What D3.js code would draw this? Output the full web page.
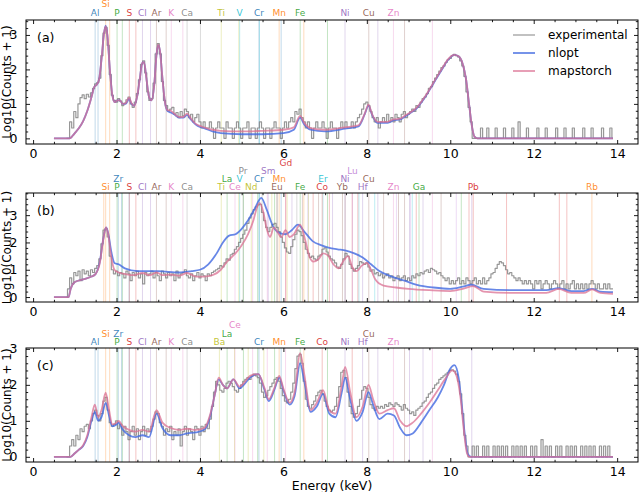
<!DOCTYPE html>
<html>
<head>
<meta charset="utf-8">
<script src="https://cdn.jsdelivr.net/npm/d3@7"></script>
<style>
  body { margin: 0; background: #fff; }
  svg { font-family: "DejaVu Sans", sans-serif; }
</style>
</head>
<body>
<svg width="640" height="492"></svg>
<script>
// experimental spectra: log10(counts + 1), one value every 0.05 keV from 0.80 keV
const expStart = 0.8;
const expStep = 0.05;

// prettier-ignore
const expA = [
  0, 0, 0.48, 0.30, 0.78, 0.60, 1.00, 1.18, 1.26, 1.15,       // 0.80
  1.28, 1.20, 1.32, 1.45, 1.58, 1.62, 1.75, 2.40, 3.05, 3.22, // 1.30
  2.70, 1.85, 1.25, 1.10, 1.05, 1.15, 1.08, 0.95, 1.02, 1.12, // 1.80
  1.20, 1.00, 0.90, 1.05, 1.30, 1.70, 2.15, 2.25, 1.90, 1.35, // 2.30
  1.10, 1.15, 1.60, 2.45, 2.75, 2.45, 1.65, 1.10, 0.95, 0.80, // 2.80
  0.85, 0.90, 0.70, 0.75, 0.60, 0.78, 0.65, 0.85, 0.78, 0.60, // 3.30
  0.70, 0.48, 0.60, 0.70, 0.48, 0.30, 0.48, 0.30, 0.30, 0.48, // 3.80
  0.30, 0, 0.30, 0.48, 0.30, 0.30, 0, 0.48, 0.30, 0.30,       // 4.30
  0, 0.30, 0.48, 0.30, 0, 0.30, 0.30, 0.48, 0, 0.30,          // 4.80
  0.30, 0, 0.30, 0.48, 0.30, 0, 0.30, 0.30, 0, 0.30,          // 5.30
  0.48, 0.30, 0.30, 0, 0.30, 0.48, 0.30, 0.48, 0.60, 0.48,    // 5.80
  0.78, 0.70, 0.85, 0.60, 0.48, 0.30, 0.48, 0.30, 0, 0.30,    // 6.30
  0.48, 0.30, 0.30, 0.48, 0.30, 0, 0.30, 0.48, 0.30, 0.30,    // 6.80
  0, 0.30, 0.48, 0.30, 0.48, 0.30, 0.30, 0.48, 0.30, 0.48,    // 7.30
  0.60, 0.70, 0.85, 1.00, 1.05, 0.95, 0.78, 0.60, 0.48, 0.60, // 7.80
  0.30, 0.48, 0.60, 0.48, 0.70, 0.48, 0.60, 0.48, 0.70, 0.60, // 8.30
  0.48, 0.70, 0.78, 0.60, 0.70, 0.78, 0.85, 0.78, 0.95, 0.90, // 8.80
  1.05, 1.15, 1.20, 1.30, 1.45, 1.50, 1.65, 1.75, 1.85, 1.95, // 9.30
  2.05, 2.10, 2.20, 2.28, 2.32, 2.40, 2.44, 2.40, 2.36, 2.25, // 9.80
  2.10, 1.80, 1.35, 0.90, 0.48, 0, 0, 0, 0, 0.30,             // 10.30
  0, 0, 0.30, 0, 0, 0, 0.30, 0, 0, 0,                         // 10.80
  0.30, 0, 0, 0, 0.30, 0, 0, 0.48, 0, 0,                      // 11.30
  0, 0.30, 0, 0, 0, 0, 0.30, 0, 0, 0,                         // 11.80
  0.30, 0, 0, 0, 0, 0.30, 0, 0, 0, 0.30,                      // 12.30
  0, 0, 0, 0.30, 0, 0, 0, 0, 0.30, 0,                         // 12.80
  0, 0, 0.30, 0, 0, 0, 0, 0.30, 0, 0,                         // 13.30
  0, 0.30, 0                                                  // 13.80
];

// prettier-ignore
const expB = [
  0, 0.30, 0.70, 0.48, 0.90, 0.78, 0.95, 0.60, 1.00, 0.85,    // 0.80
  0.95, 0.78, 1.00, 0.90, 1.05, 1.15, 1.40, 1.95, 2.45, 2.50, // 1.30
  2.20, 1.50, 1.00, 0.85, 0.95, 0.78, 0.90, 0.85, 0.70, 0.95, // 1.80
  0.85, 0.60, 0.90, 0.78, 0.95, 0.70, 0.85, 0.48, 0.90, 0.78, // 2.30
  0.85, 0.95, 0.70, 0.90, 0.78, 0.60, 0.95, 0.85, 0.70, 0.90, // 2.80
  0.78, 0.85, 0.60, 0.95, 0.70, 0.85, 0.90, 1.00, 0.78, 0.70, // 3.30
  0.85, 0.60, 0.78, 0.90, 0.70, 0.85, 0.78, 0.60, 0.85, 0.78, // 3.80
  0.90, 0.95, 1.00, 1.05, 1.15, 1.10, 1.25, 1.40, 1.35, 1.55, // 4.30
  1.60, 1.75, 1.85, 2.00, 2.15, 2.30, 2.45, 2.70, 2.90, 3.05, // 4.80
  3.20, 3.30, 3.38, 3.40, 3.10, 2.80, 2.55, 2.40, 2.55, 2.65, // 5.30
  2.70, 2.55, 2.40, 2.20, 2.00, 1.80, 1.65, 1.60, 1.85, 2.10, // 5.80
  2.30, 2.45, 2.40, 2.25, 2.00, 1.75, 1.60, 1.45, 1.50, 1.40, // 6.30
  1.35, 1.50, 1.55, 1.75, 1.80, 1.65, 1.50, 1.40, 1.35, 1.25, // 6.80
  1.10, 1.05, 1.20, 1.40, 1.60, 1.50, 1.20, 1.05, 0.95, 1.05, // 7.30
  1.15, 1.30, 1.25, 1.20, 1.25, 1.10, 0.95, 1.00, 0.85, 0.90, // 7.80
  0.78, 0.85, 0.70, 0.78, 0.85, 0.70, 0.78, 0.60, 0.70, 0.78, // 8.30
  0.60, 0.70, 0.78, 0.60, 0.70, 0.60, 0.78, 0.70, 0.85, 0.78, // 8.80
  0.90, 0.85, 0.95, 1.00, 0.90, 1.05, 1.00, 0.95, 0.85, 0.90, // 9.30
  0.78, 0.70, 0.60, 0.70, 0.48, 0.60, 0.48, 0.60, 0.70, 0.48, // 9.80
  0.60, 0.48, 0.70, 0.60, 0.48, 0.60, 0.70, 0.48, 0.60, 0.48, // 10.30
  0.70, 0.48, 0.60, 0.70, 0.85, 0.90, 1.05, 1.20, 1.30, 1.25, // 10.80
  1.15, 1.00, 0.85, 0.90, 0.78, 0.70, 0.60, 0.70, 0.60, 0.48, // 11.30
  0.60, 0.48, 0.60, 0.48, 0.30, 0.60, 0.48, 0.60, 0.30, 0.48, // 11.80
  0.60, 0.48, 0.30, 0.48, 0.60, 0.48, 0.30, 0.48, 0.60, 0.30, // 12.30
  0.48, 0.30, 0.48, 0.60, 0.30, 0.48, 0.30, 0.48, 0.30, 0.48, // 12.80
  0.30, 0.48, 0.60, 0.48, 0.30, 0.48, 0.30, 0.30, 0.48, 0.30, // 13.30
  0.48, 0.30, 0.30                                            // 13.80
];

// prettier-ignore
const expC = [
  0, 0, 0.30, 0.48, 0.30, 0.60, 0.48, 0.78, 0.70, 0.85,       // 0.80
  0.90, 0.78, 1.00, 1.20, 1.30, 1.15, 1.00, 1.20, 1.55, 1.65, // 1.30
  1.30, 0.95, 0.85, 0.90, 1.00, 0.78, 0.90, 0.60, 0.85, 0.70, // 1.80
  0.48, 0.70, 0.85, 0.60, 0.78, 0.48, 0.70, 0.85, 0.60, 0.78, // 2.30
  0.70, 0.85, 1.05, 1.25, 1.20, 0.95, 0.85, 0.60, 0.78, 0.70, // 2.80
  0.85, 0.48, 0.70, 0.60, 0.78, 0.30, 0.70, 0.85, 0.60, 0.78, // 3.30
  0.70, 0.48, 0.85, 0.78, 0.60, 0.85, 0.70, 0.90, 0.78, 1.05, // 3.80
  1.40, 1.80, 2.10, 2.00, 1.85, 1.80, 1.90, 2.05, 2.10, 2.05, // 4.30
  1.95, 1.85, 1.80, 1.90, 2.00, 2.10, 2.15, 2.20, 2.15, 2.25, // 4.80
  2.30, 2.25, 2.20, 2.05, 1.80, 1.65, 1.70, 1.85, 1.95, 2.05, // 5.30
  2.15, 2.20, 2.10, 1.90, 1.70, 1.55, 1.50, 1.60, 1.80, 2.05, // 5.80
  2.45, 2.80, 2.85, 2.60, 2.10, 1.60, 1.40, 1.35, 1.45, 1.55, // 6.30
  1.70, 1.80, 1.85, 1.75, 1.55, 1.40, 1.30, 1.25, 1.30, 1.40, // 6.80
  1.65, 1.95, 2.35, 2.40, 2.20, 1.80, 1.40, 1.20, 1.10, 1.20, // 7.30
  1.40, 1.60, 1.85, 1.95, 1.90, 1.65, 1.45, 1.35, 1.30, 1.40, // 7.80
  1.35, 1.40, 1.35, 1.45, 1.40, 1.50, 1.45, 1.40, 1.50, 1.45, // 8.30
  1.40, 1.30, 1.45, 1.35, 1.30, 1.20, 1.25, 1.15, 1.30, 1.35, // 8.80
  1.40, 1.50, 1.55, 1.65, 1.75, 1.80, 1.90, 2.00, 2.05, 2.15, // 9.30
  2.20, 2.25, 2.30, 2.35, 2.40, 2.42, 2.38, 2.30, 2.10, 1.75, // 9.80
  1.20, 0.60, 0.30, 0, 0, 0.30, 0, 0.30, 0, 0,                // 10.30
  0.30, 0, 0.30, 0, 0, 0.30, 0, 0.30, 0, 0.30,                // 10.80
  0, 0.30, 0, 0, 0.30, 0, 0.30, 0, 0.30, 0,                   // 11.30
  0.30, 0, 0, 0.30, 0, 0.30, 0, 0, 0.48, 0,                   // 11.80
  0.30, 0, 0.30, 0, 0, 0.30, 0, 0.30, 0, 0,                   // 12.30
  0.30, 0, 0.30, 0, 0.30, 0, 0, 0.30, 0, 0.30,                // 12.80
  0, 0.30, 0, 0.30, 0, 0, 0.30, 0, 0.30, 0,                   // 13.30
  0.30, 0, 0                                                  // 13.80
];

// fitted spectra as [energy keV, log10(counts + 1)]
// prettier-ignore
const nloptA = [
  [0.5,0],[0.88,0],[0.95,0.08],[1.0,0.15],[1.1,0.3],[1.2,0.5],[1.3,0.8],[1.4,1.2],[1.47,1.5],[1.52,1.55],
  [1.58,1.7],[1.64,2.3],[1.70,3.05],[1.74,3.27],[1.78,3.0],[1.84,2.0],[1.9,1.25],[1.96,1.05],[2.02,1.1],
  [2.08,1.1],[2.15,1.0],[2.22,1.0],[2.3,1.15],[2.36,1.0],[2.42,0.95],[2.5,1.25],[2.56,1.75],[2.62,2.2],
  [2.66,2.2],[2.72,1.7],[2.78,1.2],[2.84,1.1],[2.9,1.5],[2.96,2.45],[3.0,2.7],[3.04,2.55],[3.1,1.75],
  [3.16,1.05],[3.22,0.8],[3.3,0.75],[3.38,0.7],[3.5,0.6],[3.6,0.6],[3.69,0.68],[3.78,0.55],[3.9,0.4],
  [4.0,0.33],[4.1,0.3],[4.3,0.2],[4.5,0.15],[5.0,0.12],[5.5,0.12],[6.0,0.15],[6.25,0.25],[6.4,0.6],
  [6.5,0.4],[6.65,0.25],[7.0,0.2],[7.48,0.28],[7.8,0.35],[7.95,0.7],[8.04,0.95],[8.12,0.7],[8.25,0.45],
  [8.5,0.45],[8.64,0.52],[8.8,0.55],[8.9,0.62],[9.0,0.7],[9.2,0.88],[9.4,1.2],[9.6,1.6],[9.8,2.0],
  [9.95,2.28],[10.1,2.42],[10.2,2.38],[10.3,2.15],[10.38,1.7],[10.45,1.0],[10.52,0.35],[10.58,0.05],
  [10.65,0],[13.9,0]
];
// prettier-ignore
const mapstorchA = [
  [0.5,0],[0.88,0],[0.95,0.08],[1.0,0.15],[1.1,0.3],[1.2,0.5],[1.3,0.8],[1.4,1.2],[1.47,1.5],[1.52,1.55],
  [1.58,1.7],[1.64,2.3],[1.70,3.05],[1.74,3.25],[1.78,3.0],[1.84,2.0],[1.9,1.25],[1.96,1.05],[2.02,1.1],
  [2.08,1.1],[2.15,1.0],[2.22,1.02],[2.3,1.18],[2.36,1.02],[2.42,0.95],[2.5,1.25],[2.56,1.75],[2.62,2.2],
  [2.66,2.2],[2.72,1.7],[2.78,1.2],[2.84,1.1],[2.9,1.5],[2.96,2.45],[3.0,2.72],[3.04,2.55],[3.1,1.75],
  [3.16,1.05],[3.22,0.82],[3.3,0.8],[3.38,0.72],[3.5,0.62],[3.6,0.62],[3.69,0.72],[3.78,0.58],[3.9,0.42],
  [4.0,0.36],[4.1,0.32],[4.3,0.25],[4.5,0.22],[5.0,0.2],[5.5,0.22],[6.0,0.25],[6.25,0.32],[6.4,0.65],
  [6.5,0.45],[6.65,0.3],[7.0,0.25],[7.48,0.32],[7.8,0.38],[7.95,0.72],[8.04,0.98],[8.12,0.72],[8.25,0.48],
  [8.5,0.48],[8.64,0.55],[8.8,0.57],[8.9,0.65],[9.0,0.72],[9.2,0.9],[9.4,1.22],[9.6,1.62],[9.8,2.02],
  [9.95,2.3],[10.1,2.42],[10.2,2.38],[10.3,2.15],[10.38,1.7],[10.45,1.0],[10.52,0.35],[10.58,0.05],
  [10.65,0],[13.9,0]
];

// prettier-ignore
const nloptB = [
  [0.5,0],[0.85,0],[0.9,0.3],[1.0,0.55],[1.2,0.65],[1.4,0.75],[1.5,0.85],[1.6,1.3],[1.68,2.1],[1.75,2.55],
  [1.8,2.35],[1.87,1.7],[1.95,1.25],[2.05,1.2],[2.2,1.05],[2.5,0.95],[3.0,0.95],[3.5,0.9],[3.8,0.95],
  [4.0,1.0],[4.2,1.2],[4.4,1.6],[4.55,2.0],[4.7,2.25],[4.85,2.3],[5.0,2.5],[5.15,2.8],[5.3,3.2],[5.47,3.63],
  [5.6,3.2],[5.75,2.6],[5.9,2.35],[6.05,2.3],[6.2,2.45],[6.35,2.65],[6.5,2.4],[6.7,2.05],[6.9,1.9],
  [7.1,1.8],[7.3,1.75],[7.5,1.7],[7.7,1.6],[7.9,1.45],[8.1,1.2],[8.3,0.95],[8.6,0.75],[8.9,0.6],
  [9.2,0.45],[9.6,0.35],[10.0,0.3],[10.3,0.38],[10.5,0.45],[10.8,0.3],[11.5,0.25],[12.3,0.25],[12.6,0.33],
  [12.9,0.22],[13.2,0.22],[13.4,0.3],[13.6,0.2],[13.9,0.18]
];
// prettier-ignore
const mapstorchB = [
  [0.5,0],[0.85,0],[0.9,0.3],[1.0,0.55],[1.2,0.65],[1.4,0.75],[1.5,0.85],[1.6,1.25],[1.68,2.1],[1.75,2.55],
  [1.8,2.3],[1.87,1.5],[1.95,1.0],[2.05,0.9],[2.2,0.85],[2.4,0.8],[2.62,0.88],[2.8,0.8],[2.96,0.9],
  [3.1,0.8],[3.31,0.82],[3.5,0.78],[3.69,0.88],[3.9,0.75],[4.1,0.75],[4.3,0.8],[4.5,1.0],[4.65,1.3],
  [4.85,1.6],[5.0,1.9],[5.15,2.3],[5.28,2.8],[5.35,3.2],[5.43,3.45],[5.52,3.1],[5.6,2.5],[5.68,2.2],
  [5.77,2.55],[5.85,2.4],[5.95,2.2],[6.05,2.45],[6.15,2.2],[6.25,2.3],[6.4,2.65],[6.52,2.1],[6.62,1.5],
  [6.72,1.3],[6.85,1.4],[6.95,1.6],[7.05,1.55],[7.2,1.2],[7.32,1.05],[7.45,1.35],[7.55,1.5],[7.65,1.1],
  [7.75,0.95],[7.88,1.15],[8.0,1.25],[8.1,1.0],[8.2,0.65],[8.4,0.42],[8.7,0.35],[9.0,0.3],[9.5,0.25],
  [10.0,0.22],[10.3,0.3],[10.55,0.4],[10.8,0.2],[11.5,0.15],[12.3,0.15],[12.6,0.3],[12.9,0.15],
  [13.2,0.15],[13.4,0.28],[13.6,0.15],[13.9,0.12]
];

// prettier-ignore
const nloptC = [
  [0.5,0],[0.9,0],[1.0,0.1],[1.1,0.2],[1.2,0.3],[1.3,0.55],[1.4,1.0],[1.48,1.25],[1.56,1.0],[1.64,1.1],
  [1.74,1.5],[1.82,1.15],[1.9,0.85],[2.0,0.9],[2.05,0.95],[2.15,0.75],[2.3,0.6],[2.45,0.55],[2.62,0.6],
  [2.78,0.55],[2.96,1.2],[3.1,0.8],[3.3,0.6],[3.5,0.6],[3.69,0.65],[3.9,0.68],[4.1,0.75],[4.25,1.15],
  [4.35,1.7],[4.45,2.15],[4.55,2.0],[4.65,1.9],[4.8,2.15],[4.95,1.9],[5.05,2.0],[5.2,2.2],[5.4,2.3],
  [5.55,1.85],[5.65,1.55],[5.78,1.85],[5.9,2.2],[6.0,1.85],[6.15,1.45],[6.27,1.7],[6.4,2.6],[6.5,2.1],
  [6.65,1.25],[6.8,1.4],[6.95,1.75],[7.1,1.2],[7.25,1.1],[7.4,1.8],[7.48,2.2],[7.6,1.6],[7.75,1.0],
  [7.9,1.25],[8.04,1.8],[8.15,1.45],[8.3,1.05],[8.5,1.2],[8.65,1.15],[8.8,0.8],[8.95,0.6],[9.1,0.65],
  [9.3,0.95],[9.5,1.3],[9.7,1.65],[9.85,2.0],[10.0,2.45],[10.1,2.55],[10.2,2.2],[10.28,1.4],[10.35,0.6],
  [10.42,0.08],[10.5,0],[13.9,0]
];
// prettier-ignore
const mapstorchC = [
  [0.5,0],[0.9,0],[1.0,0.1],[1.1,0.2],[1.2,0.32],[1.3,0.6],[1.4,1.1],[1.48,1.45],[1.56,1.1],[1.64,1.3],
  [1.74,1.78],[1.82,1.3],[1.9,0.9],[2.0,0.95],[2.05,1.0],[2.15,0.85],[2.3,0.75],[2.45,0.7],[2.62,0.75],
  [2.78,0.7],[2.96,1.3],[3.1,0.95],[3.3,0.8],[3.5,0.75],[3.69,0.78],[3.9,0.75],[4.1,0.8],[4.25,1.2],
  [4.35,1.7],[4.45,2.2],[4.55,2.0],[4.65,1.9],[4.8,2.15],[4.95,1.95],[5.05,2.05],[5.2,2.25],[5.4,2.3],
  [5.55,1.9],[5.65,1.6],[5.78,1.9],[5.9,2.25],[6.0,1.9],[6.15,1.5],[6.27,1.8],[6.4,2.88],[6.5,2.3],
  [6.65,1.3],[6.8,1.5],[6.95,1.85],[7.1,1.3],[7.25,1.2],[7.4,2.0],[7.48,2.5],[7.6,1.8],[7.75,1.1],
  [7.9,1.4],[8.04,2.0],[8.15,1.6],[8.3,1.2],[8.5,1.3],[8.65,1.35],[8.8,1.0],[8.95,0.85],[9.1,0.95],
  [9.3,1.2],[9.5,1.5],[9.7,1.85],[9.9,2.2],[10.05,2.4],[10.15,2.25],[10.25,1.6],[10.32,0.8],[10.4,0.1],
  [10.46,0],[13.9,0]
];

// emission line energies (keV), first entry is the labelled line
// prettier-ignore
const lineEnergies = {
  Al: [1.487, 1.557], Si: [1.740, 1.836], P: [2.013, 2.139], S: [2.307, 2.464],
  Cl: [2.622, 2.815], Ar: [2.957, 3.190], K: [3.313, 3.590], Ca: [3.691, 4.012],
  Ti: [4.510, 4.931], V: [4.952, 5.427], Cr: [5.414, 5.946], Mn: [5.898, 6.490],
  Fe: [6.403, 7.057], Co: [6.930, 7.649], Ni: [7.477, 8.264], Cu: [8.047, 8.904],
  Zn: [8.638, 9.571], Ga: [9.251, 10.264], Rb: [13.395, 1.694], Zr: [2.042, 2.124, 2.302],
  Ba: [4.466, 4.828, 5.156, 5.531], La: [4.651, 5.042, 5.383, 5.789],
  Ce: [4.840, 5.262, 5.613, 6.052], Pr: [5.034, 5.489, 5.850, 6.322],
  Nd: [5.230, 5.722, 6.089, 6.602], Sm: [5.636, 6.205, 6.587, 7.178],
  Eu: [5.846, 6.456, 6.843, 7.480], Gd: [6.057, 6.713, 7.102, 7.785],
  Er: [6.949, 7.811, 8.189, 9.089], Yb: [7.416, 8.402, 8.759, 9.780],
  Lu: [7.655, 8.710, 9.048, 10.144], Hf: [7.899, 9.023, 9.347, 10.516],
  Pb: [10.551, 12.614, 11.349, 12.794, 9.184, 10.449]
};

// prettier-ignore
const elementsA = ["Al","Si","P","S","Cl","Ar","K","Ca","Ti","V","Cr","Mn","Fe","Ni","Cu","Zn"];
// prettier-ignore
const elementsB = ["Si","P","Zr","S","Cl","Ar","K","Ca","Ti","La","Ce","V","Pr","Nd","Cr","Sm","Mn","Eu",
                   "Gd","Fe","Er","Co","Yb","Ni","Lu","Hf","Cu","Zn","Ga","Pb","Rb"];
// prettier-ignore
const elementsC = ["Al","Si","P","Zr","S","Cl","Ar","K","Ca","Ba","La","Ce","Cr","Mn","Fe","Co","Ni","Hf","Cu","Zn"];

const seriesNames = ["experimental", "nlopt", "mapstorch"];
const energyTicks = [0, 2, 4, 6, 8, 10, 12, 14];
const countTicks = [0, 1, 2, 3];

// ---- styles / layout ----
// prettier-ignore
const elementColor = {
  Al: "#1f77b4", Si: "#ff7f0e", P: "#2ca02c", S: "#d62728", Cl: "#9467bd", Ar: "#8c564b",
  K: "#e377c2", Ca: "#7f7f7f", Ti: "#bcbd22", V: "#17becf", Cr: "#1f77b4", Mn: "#ff7f0e",
  Fe: "#2ca02c", Co: "#d62728", Ni: "#9467bd", Cu: "#8c564b", Zn: "#e377c2", Ga: "#2ca02c",
  Rb: "#ff7f0e", Zr: "#1f77b4", Ba: "#bcbd22", La: "#2ca02c", Ce: "#e377c2", Pr: "#7f7f7f",
  Nd: "#bcbd22", Sm: "#9467bd", Eu: "#8c564b", Gd: "#d62728", Er: "#17becf", Yb: "#8c564b",
  Lu: "#c07fd6", Hf: "#9467bd", Pb: "#d62728"
};
const seriesStyle = {
  experimental: { color: "#858585", opacity: 0.85, width: 1.2 },
  nlopt: { color: "#4169e1", opacity: 0.8, width: 1.8 },
  mapstorch: { color: "#db7093", opacity: 0.75, width: 1.8 }
};

const panels = [
  { tag: "(a)", top: 20, bottom: 144, exp: expA, fits: [nloptA, mapstorchA], elements: elementsA,
    levels: { Si: 1 }, legend: true },
  { tag: "(b)", top: 193, bottom: 302, exp: expB, fits: [nloptB, mapstorchB], elements: elementsB,
    levels: { Zr: 1, La: 1, V: 1, Cr: 1, Mn: 1, Er: 1, Ni: 1, Cu: 1, Pr: 2, Sm: 2, Lu: 2, Gd: 3 } },
  { tag: "(c)", top: 348, bottom: 462, exp: expC, fits: [nloptC, mapstorchC], elements: elementsC,
    levels: { Si: 1, Zr: 1, La: 1, Cu: 1, Ce: 2 } }
];

const svg = d3.select("svg");
const x = d3.scaleLinear().domain([-0.17, 14.5]).range([26, 638]);
const minorX = d3.range(0, 14.5, 0.5).filter((d) => d % 2 !== 0);

panels.forEach((p, pi) => {
  const expPts = p.exp.map((v, i) => [expStart + i * expStep, v]);
  const allSeries = [expPts, p.fits[0], p.fits[1]];
  const vmax = d3.max(allSeries, (s) => d3.max(s, (d) => d[1]));
  const pad = vmax * 0.05;
  const y = d3.scaleLinear().domain([-pad, vmax + pad]).range([p.bottom, p.top]);
  const h = p.bottom - p.top;

  const g = svg.append("g");

  g.append("clipPath")
    .attr("id", "clip" + pi)
    .append("rect")
    .attr("x", x.range()[0])
    .attr("y", p.top)
    .attr("width", x.range()[1] - x.range()[0])
    .attr("height", h);

  const plot = g.append("g").attr("clip-path", `url(#clip${pi})`);

  // faint emission lines
  p.elements.forEach((el) => {
    lineEnergies[el].forEach((e) => {
      plot.append("line")
        .attr("x1", x(e)).attr("x2", x(e))
        .attr("y1", p.top).attr("y2", p.bottom)
        .attr("stroke", elementColor[el])
        .attr("stroke-opacity", 0.28)
        .attr("stroke-width", 1);
    });
  });

  // element labels above the frame
  p.elements.forEach((el) => {
    const lvl = p.levels[el] || 0;
    g.append("text")
      .attr("x", x(lineEnergies[el][0]))
      .attr("y", p.top - (0.056 + 0.073 * lvl) * h + 3.3)
      .attr("text-anchor", "middle")
      .attr("font-size", 9)
      .attr("fill", elementColor[el])
      .attr("fill-opacity", 0.9)
      .text(el);
  });

  // spectra
  const expLine = d3.line()
    .x((d) => x(d[0]))
    .y((d) => y(d[1]))
    .curve(d3.curveStep);
  const fitLine = d3.line()
    .x((d) => x(d[0]))
    .y((d) => y(d[1]))
    .curve(d3.curveMonotoneX);

  allSeries.forEach((s, si) => {
    const st = seriesStyle[seriesNames[si]];
    plot.append("path")
      .datum(s)
      .attr("fill", "none")
      .attr("stroke", st.color)
      .attr("stroke-opacity", st.opacity)
      .attr("stroke-width", st.width)
      .attr("stroke-linejoin", "round")
      .attr("d", si === 0 ? expLine : fitLine);
  });

  // ticks, all pointing inward
  const minorY = d3.range(0.2, vmax + pad, 0.2).filter((d) => Math.abs(d - Math.round(d)) > 1e-6);
  const intFmt = d3.format("d");
  const axes = [
    [d3.axisBottom(x).tickValues(energyTicks).tickFormat(intFmt).tickSize(-4).tickPadding(5), `translate(0,${p.bottom})`],
    [d3.axisBottom(x).tickValues(minorX).tickSize(-2.2).tickFormat(""), `translate(0,${p.bottom})`],
    [d3.axisTop(x).tickValues(energyTicks).tickSize(-4).tickFormat(""), `translate(0,${p.top})`],
    [d3.axisTop(x).tickValues(minorX).tickSize(-2.2).tickFormat(""), `translate(0,${p.top})`],
    [d3.axisLeft(y).tickValues(countTicks).tickFormat(intFmt).tickSize(-4).tickPadding(8.5), `translate(${x.range()[0]},0)`],
    [d3.axisLeft(y).tickValues(minorY).tickSize(-2.2).tickFormat(""), `translate(${x.range()[0]},0)`],
    [d3.axisRight(y).tickValues(countTicks).tickSize(-4).tickFormat(""), `translate(${x.range()[1]},0)`],
    [d3.axisRight(y).tickValues(minorY).tickSize(-2.2).tickFormat(""), `translate(${x.range()[1]},0)`]
  ];
  axes.forEach(([ax, tr]) => {
    const a = g.append("g").attr("transform", tr).call(ax);
    a.select(".domain").remove();
    a.attr("font-family", null).attr("font-size", 12.5);
    a.selectAll("line").attr("stroke", "#000").attr("stroke-width", 0.9);
    a.selectAll("text").attr("fill", "#000");
  });

  // frame
  g.append("rect")
    .attr("x", x.range()[0])
    .attr("y", p.top)
    .attr("width", x.range()[1] - x.range()[0])
    .attr("height", h)
    .attr("fill", "none")
    .attr("stroke", "#000")
    .attr("stroke-width", 1);

  // panel tag
  g.append("text")
    .attr("x", 37)
    .attr("y", p.top + 22)
    .attr("font-size", 12.5)
    .text(p.tag);

  // y label
  g.append("text")
    .attr("transform", `translate(10.5,${(p.top + p.bottom) / 2}) rotate(-90)`)
    .attr("text-anchor", "middle")
    .attr("font-size", 12)
    .text("Log10(Counts + 1)");

  if (p.legend) {
    const lg = g.append("g").attr("transform", `translate(513,${p.top + 15})`);
    seriesNames.forEach((name, i) => {
      const st = seriesStyle[name];
      lg.append("line")
        .attr("x1", 0).attr("x2", 22)
        .attr("y1", i * 18).attr("y2", i * 18)
        .attr("stroke", st.color)
        .attr("stroke-opacity", st.opacity)
        .attr("stroke-width", st.width);
      lg.append("text")
        .attr("x", 35)
        .attr("y", i * 18 + 4.3)
        .attr("font-size", 12)
        .text(name);
    });
  }
});

// x label under the last panel
svg.append("text")
  .attr("x", (x.range()[0] + x.range()[1]) / 2)
  .attr("y", 490)
  .attr("text-anchor", "middle")
  .attr("font-size", 12.5)
  .text("Energy (keV)");
</script>
</body>
</html>
